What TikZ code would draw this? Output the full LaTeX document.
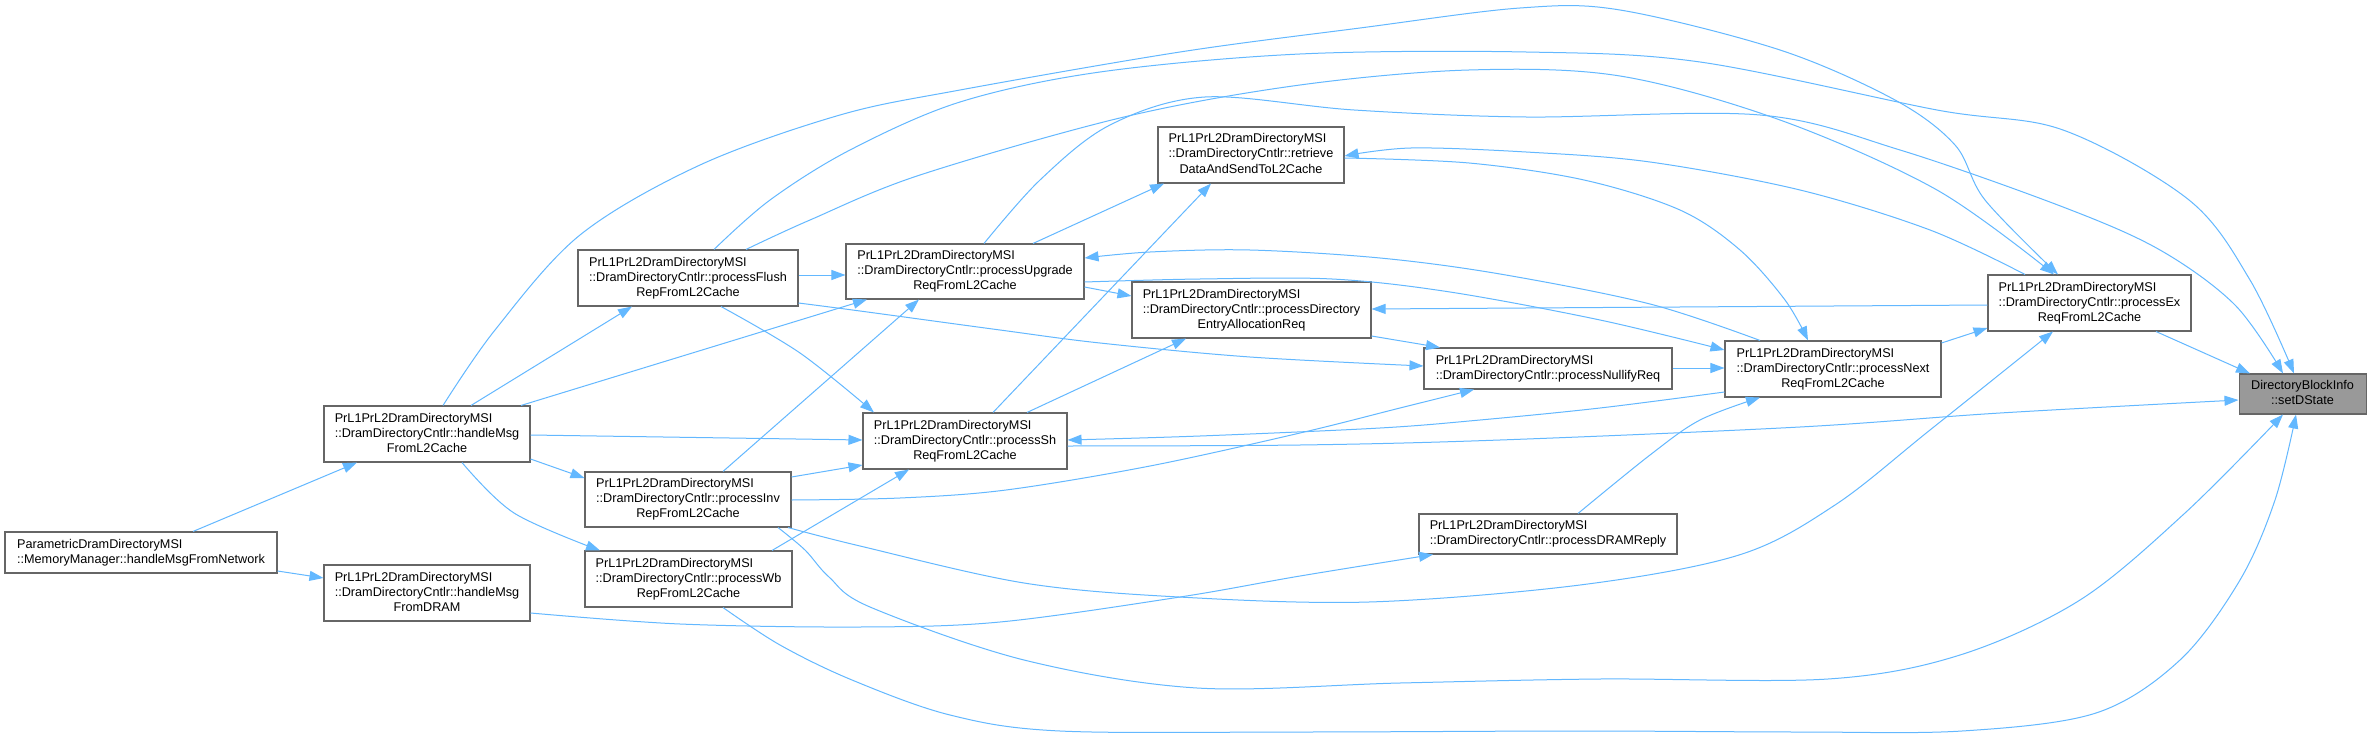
\documentclass[tikz,border=0pt]{standalone}
\usepackage{fontspec}
\setmainfont{Liberation Sans}
\usetikzlibrary{arrows.meta}
\definecolor{edgeblue}{HTML}{63B8FF}
\definecolor{nodeborder}{HTML}{666666}
\definecolor{rootfill}{HTML}{999999}
\newcommand{\threel}[3]{\begin{tabular}{@{}l@{}}#1\\#2\\\multicolumn{1}{@{}c@{}}{#3}\end{tabular}}
\newcommand{\twol}[2]{\begin{tabular}{@{}l@{}}#1\\#2\end{tabular}}
\newcommand{\twoc}[2]{\begin{tabular}{@{}c@{}}#1\\#2\end{tabular}}
\newcommand{\ns}{PrL1PrL2DramDirectoryMSI}
\newcommand{\dc}{::DramDirectoryCntlr::}
\tikzset{
  fn/.style={draw=nodeborder, line width=0.8pt, fill=white, inner sep=0pt,
    font=\fontsize{9.5}{11.25}\selectfont},
  root/.style={fn, fill=rootfill},
  conn/.style={draw=edgeblue, line width=0.75pt, -{Triangle[length=10.5pt,width=7.5pt]}},
  sm/.style={smooth, tension=0.55}
}
\begin{document}
\begin{tikzpicture}[x=0.75pt,y=-0.75pt]
\fill[white] (0,0) rectangle (2372,738);
\useasboundingbox (0,0) rectangle (2372,738);

% nodes
\node[fn, minimum width=204pt, minimum height=30.75pt] (net) at (141,552.5) {\twol{ParametricDramDirectoryMSI}{::MemoryManager::handleMsgFromNetwork}};
\node[fn, minimum width=154.5pt, minimum height=42pt] (hL2) at (427,434) {\threel{\ns}{\dc handleMsg}{FromL2Cache}};
\node[fn, minimum width=154.5pt, minimum height=42pt] (hDRAM) at (427,593) {\threel{\ns}{\dc handleMsg}{FromDRAM}};
\node[fn, minimum width=165pt, minimum height=42pt] (flush) at (688,278) {\threel{\ns}{\dc processFlush}{RepFromL2Cache}};
\node[fn, minimum width=154.5pt, minimum height=41.25pt] (inv) at (688,499.5) {\threel{\ns}{\dc processInv}{RepFromL2Cache}};
\node[fn, minimum width=155.25pt, minimum height=42pt] (wb) at (688.5,579) {\threel{\ns}{\dc processWb}{RepFromL2Cache}};
\node[fn, minimum width=178.5pt, minimum height=41.25pt] (upg) at (965,271.5) {\threel{\ns}{\dc processUpgrade}{ReqFromL2Cache}};
\node[fn, minimum width=139.5pt, minimum height=42pt] (retr) at (1251,155) {\threel{\ns}{\dc retrieve}{DataAndSendToL2Cache}};
\node[fn, minimum width=179.25pt, minimum height=42pt] (dea) at (1251.5,310) {\threel{\ns}{\dc processDirectory}{EntryAllocationReq}};
\node[fn, minimum width=153pt, minimum height=42pt] (sh) at (965,441) {\threel{\ns}{\dc processSh}{ReqFromL2Cache}};
\node[fn, minimum width=186pt, minimum height=30.75pt] (null) at (1548,368.5) {\twol{\ns}{\dc processNullifyReq}};
\node[fn, minimum width=193.5pt, minimum height=30pt] (dramrep) at (1548,534) {\twol{\ns}{\dc processDRAMReply}};
\node[fn, minimum width=162pt, minimum height=42pt] (next) at (1833,369) {\threel{\ns}{\dc processNext}{ReqFromL2Cache}};
\node[fn, minimum width=152.25pt, minimum height=42pt] (ex) at (2089.5,303) {\threel{\ns}{\dc processEx}{ReqFromL2Cache}};
\node[root, minimum width=95.25pt, minimum height=30pt] (set) at (2302.5,394) {\twoc{DirectoryBlockInfo}{::setDState}};

% connectors (arrow at callee)
\draw[conn] (193,0|-net.north) -- (357,0|-hL2.south);
\draw[conn] (net.east|-0,571) -- (hDRAM.west|-0,578);
\draw[conn] (471,0|-hL2.north) -- (632,0|-flush.south);
\draw[conn] (521,0|-hL2.north) -- (867,0|-upg.south);
\draw[conn] (hL2.east|-0,435) -- (sh.west|-0,440);
\draw[conn] (hL2.east|-0,459) -- (inv.west|-0,478);
\draw[conn] plot[sm] coordinates {(462,0|-hL2.south) (514,513) (600,0|-wb.north)};
\draw[conn] plot[sm] coordinates {(443,0|-hL2.north) (495,330) (580,235) (700,165) (840,115) (960,90) (1180,52) (1360,28) (1520,8) (1620,10) (1780,50) (1895,100) (1955,145) (1985,200) (2058,0|-ex.north)};
\draw[conn] plot[sm] coordinates {(714,0|-flush.north) (770,200) (850,150) (960,102) (1100,72) (1300,54) (1526,52) (1700,62) (1937,110) (2063,130) (2189,200) (2250,280) (2294,0|-set.north)};
\draw[conn] plot[sm] coordinates {(746,0|-flush.north) (810,220) (920,175) (1124,117) (1300,85) (1469,70) (1620,76) (1780,120) (1937,190) (2054,0|-ex.north)};
\draw[conn] plot[sm] coordinates {(984,0|-upg.north) (1040,180) (1110,125) (1205,97) (1354,110) (1526,117) (1760,115) (1900,150) (2063,207) (2160,250) (2235,305) (2283,0|-set.north)};
\draw[conn] (flush.east|-0,275) -- (upg.west|-0,275);
\draw[conn] plot[sm] coordinates {(flush.east|-0,303) (860,311) (1000,330) (1100,343) (1250,357) (null.west|-0,366)};
\draw[conn] plot[sm] coordinates {(721,0|-flush.south) (800,353) (874,0|-sh.north)};
\draw[conn] (723,0|-inv.north) -- (919,0|-upg.south);
\draw[conn] (inv.east|-0,477) -- (sh.west|-0,465);
\draw[conn] plot[sm] coordinates {(inv.east|-0,500) (900,498) (1006,490) (1150,466) (1300,433) (1400,408) (1474,0|-null.south)};
\draw[conn] plot[sm] coordinates {(788,0|-inv.south) (860,546) (1024,583) (1179,597) (1369,602) (1580,585) (1739,555) (1835,505) (1930,430) (2053,0|-ex.south)};
\draw[conn] plot[sm] coordinates {(778,0|-inv.south) (805,550) (829,577) (870,607) (1024,660) (1197,688) (1400,683) (1600,679) (1828,679) (1960,655) (2080,600) (2185,513) (2283,0|-set.south)};
\draw[conn] plot[sm] coordinates {(723,0|-wb.south) (780,645) (852,680) (950,715) (1060,731) (1300,732) (1580,731) (1800,732) (1962,731) (2096,713) (2180,660) (2240,580) (2275,500) (2296,0|-set.south)};
\draw[conn] (772,0|-wb.north) -- (909,0|-sh.south);
\draw[conn] plot[sm] coordinates {(hDRAM.east|-0,613) (680,624) (860,627) (1000,622) (1180,597) (1300,576) (1433,0|-dramrep.south)};
\draw[conn] (1033,0|-upg.north) -- (1164,0|-retr.south);
\draw[conn] (993,0|-sh.north) -- (1211,0|-retr.south);
\draw[conn] (1027,0|-sh.north) -- (1186,0|-dea.south);
\draw[conn] (upg.east|-0,287) -- (dea.west|-0,296);
\draw[conn] plot[sm] coordinates {(upg.east|-0,282) (1200,279) (1332,279) (1450,292) (1600,320) (next.west|-0,350)};
\draw[conn] plot[sm] coordinates {(1760,0|-next.north) (1650,304) (1500,274) (1380,258) (1250,250) (1150,252) (upg.east|-0,258)};
\draw[conn] (ex.west|-0,305) -- (dea.east|-0,309);
\draw[conn] plot[sm] coordinates {(2025,0|-ex.north) (1930,230) (1800,190) (1650,162) (1526,152) (1411,148) (retr.east|-0,156)};
\draw[conn] plot[sm] coordinates {(retr.east|-0,158) (1469,163) (1584,180) (1680,210) (1740,250) (1785,300) (1808,0|-next.north)};
\draw[conn] (null.east|-0,368) -- (next.west|-0,368);
\draw[conn] (dea.east|-0,336) -- (1440,0|-null.north);
\draw[conn] plot[sm] coordinates {(next.west|-0,392) (1600,408) (1480,420) (1380,428) (1200,436) (sh.east|-0,440)};
\draw[conn] plot[sm] coordinates {(sh.east|-0,446) (1300,445) (1500,440) (1800,427) (2000,413) (set.west|-0,400)};
\draw[conn] (next.east|-0,343) -- (ex.west|-0,328);
\draw[conn] (2156,0|-ex.south) -- (2250,0|-set.north);
\draw[conn] plot[sm] coordinates {(1578,0|-dramrep.north) (1650,455) (1700,420) (1760,0|-next.south)};
\end{tikzpicture}
\end{document}
